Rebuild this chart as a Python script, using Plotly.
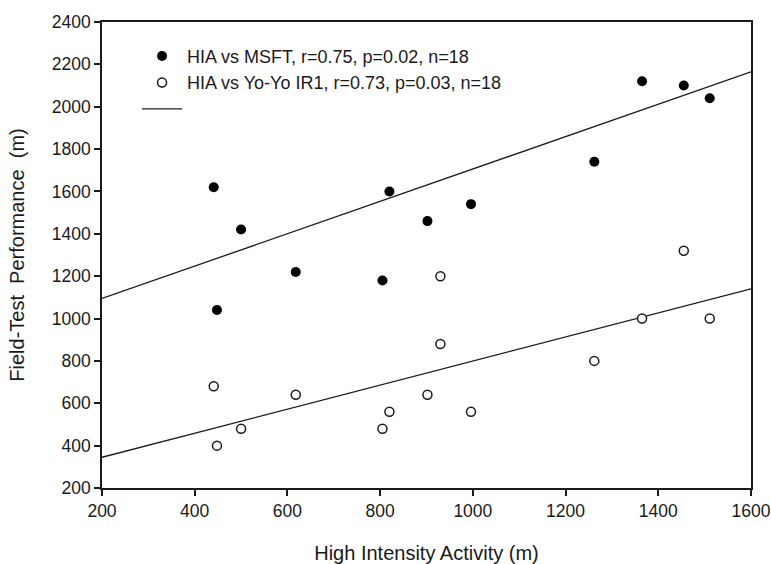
import plotly.graph_objects as go
import numpy as np

# Data
msft_x = [441, 448, 500, 618, 805, 820, 902, 996, 1262, 1365, 1455, 1511]
msft_y = [1620, 1040, 1420, 1220, 1180, 1600, 1460, 1540, 1740, 2120, 2100, 2040]

yoyo_x = [441, 448, 500, 618, 805, 820, 902, 930, 930, 996, 1262, 1365, 1455, 1511]
yoyo_y = [680, 400, 480, 640, 480, 560, 640, 1200, 880, 560, 800, 1000, 1320, 1000]

# Regression lines (intercept, slope) as drawn
msft_fit = (942.0, 0.764)
yoyo_fit = (231.4, 0.568)
fit_x = [200, 1600]

legend_msft = "HIA vs MSFT, r=0.75, p=0.02, n=18"
legend_yoyo = "HIA vs Yo-Yo IR1, r=0.73, p=0.03, n=18"

x_ticks = [200, 400, 600, 800, 1000, 1200, 1400, 1600]
y_ticks = [200, 400, 600, 800, 1000, 1200, 1400, 1600, 1800, 2000, 2200, 2400]

FONT = "Liberation Sans, Arial, sans-serif"
INK = "#1a1a1a"

fx = np.array(fit_x, dtype=float)

fig = go.Figure()
fig.add_trace(go.Scatter(
    x=fx, y=msft_fit[0] + msft_fit[1] * fx, mode="lines",
    line=dict(color=INK, width=1.3), name=" ", legendrank=3, showlegend=True))
fig.add_trace(go.Scatter(
    x=fx, y=yoyo_fit[0] + yoyo_fit[1] * fx, mode="lines",
    line=dict(color=INK, width=1.3), name=" ", showlegend=False))
fig.add_trace(go.Scatter(
    x=msft_x, y=msft_y, mode="markers", name=legend_msft, legendrank=1,
    marker=dict(symbol="circle", size=10, color="black", line=dict(width=0))))
fig.add_trace(go.Scatter(
    x=yoyo_x, y=yoyo_y, mode="markers", name=legend_yoyo, legendrank=2,
    marker=dict(symbol="circle", size=9, color="white",
                line=dict(width=1.5, color=INK))))

axis_common = dict(
    showline=True, linecolor=INK, linewidth=1.5, mirror=True,
    ticks="outside", ticklen=6, tickwidth=1.5, tickcolor=INK,
    showgrid=False, zeroline=False, automargin=False,
    tickfont=dict(family=FONT, size=17.5, color=INK),
)

fig.update_layout(
    width=771, height=564,
    margin=dict(l=102, r=20, t=22, b=76),
    paper_bgcolor="white", plot_bgcolor="white",
    font=dict(family=FONT, color=INK),
    xaxis=dict(range=[200, 1600], tickvals=x_ticks,
               title=dict(text="High Intensity Activity (m)",
                          font=dict(family=FONT, size=20, color=INK), standoff=30),
               **axis_common),
    yaxis=dict(range=[200, 2400], tickvals=y_ticks,
               title=dict(text="Field-Test  Performance  (m)",
                          font=dict(family=FONT, size=20, color=INK), standoff=22),
               **axis_common),
    legend=dict(x=0.054, y=0.966, xanchor="left", yanchor="top",
                bgcolor="rgba(0,0,0,0)", borderwidth=0,
                font=dict(family=FONT, size=18, color=INK),
                itemwidth=40, traceorder="normal"),
    showlegend=True,
)

fig.write_html("out.html", config={"displayModeBar": False})

# remove the browser's default page margin so the figure fills the window exactly
with open("out.html", "r", encoding="utf-8") as f:
    html = f.read()
html = html.replace("<head>", "<head><style>html,body{margin:0;padding:0;overflow:hidden}</style>", 1)
with open("out.html", "w", encoding="utf-8") as f:
    f.write(html)
